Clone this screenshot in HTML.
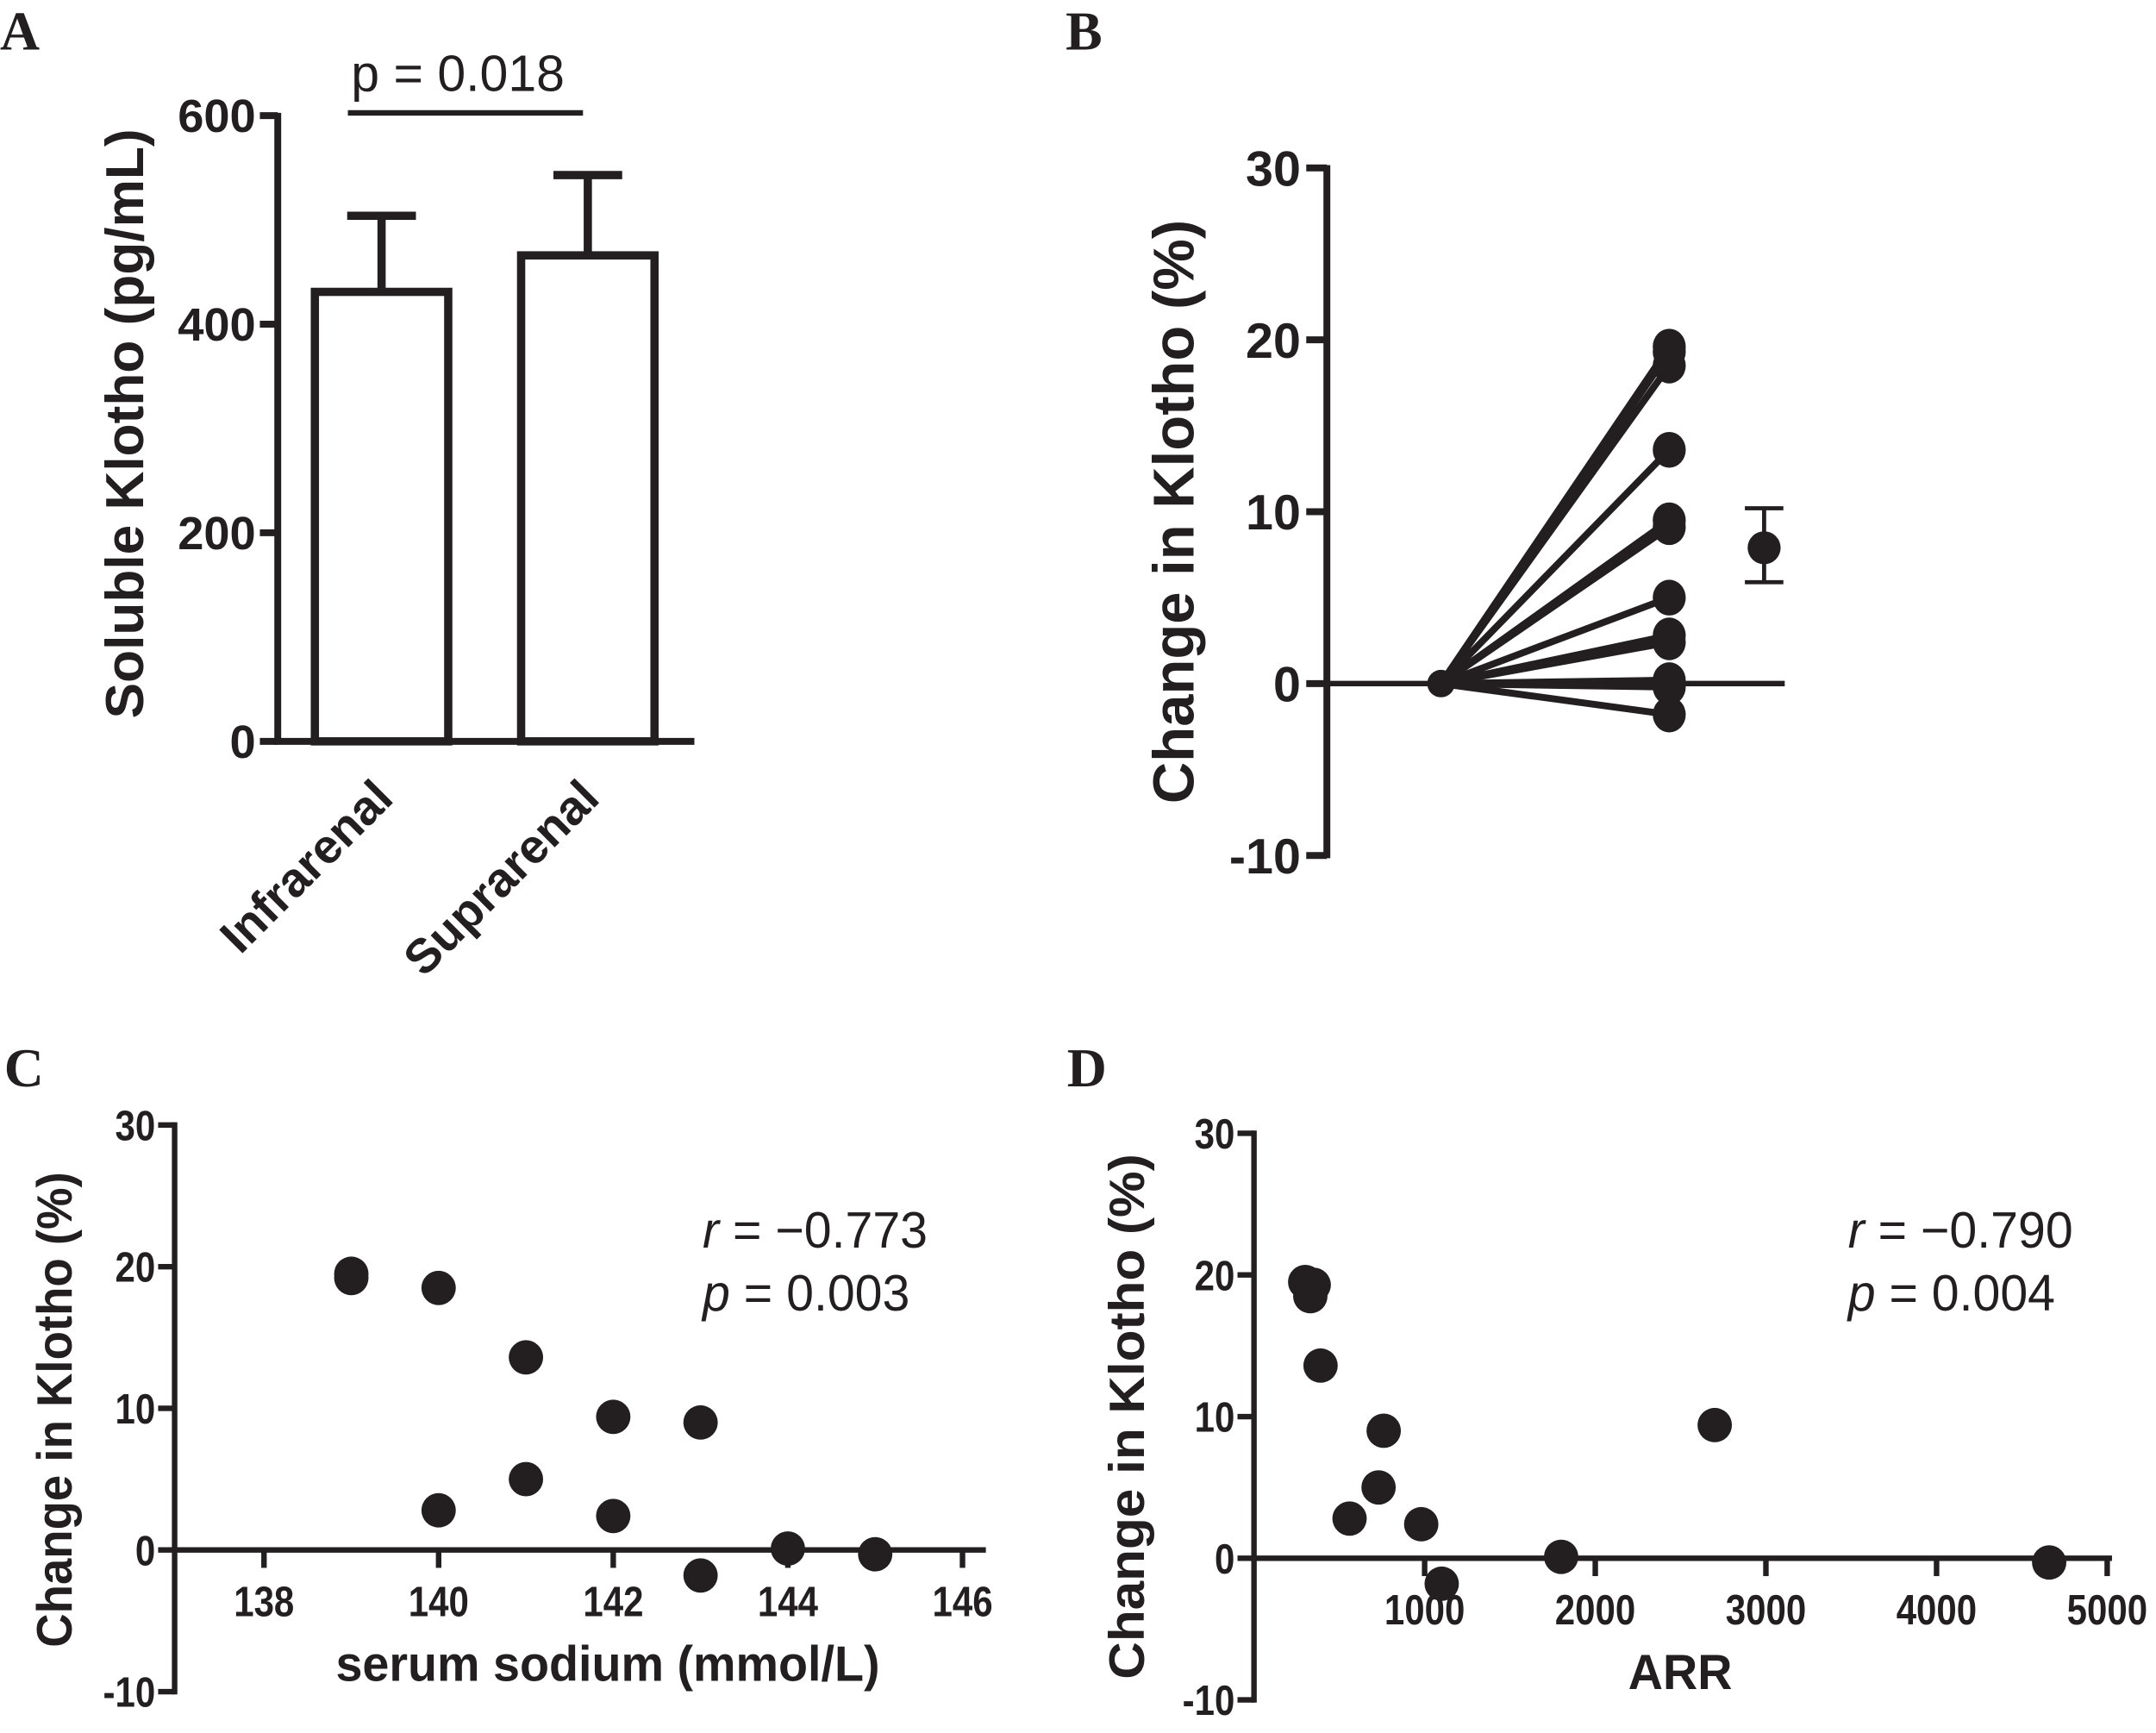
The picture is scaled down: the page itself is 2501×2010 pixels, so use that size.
<!DOCTYPE html>
<html><head><meta charset="utf-8">
<style>
html,body{margin:0;padding:0;background:#fff;}
svg{display:block;}
text{font-family:"Liberation Sans",sans-serif;fill:#231f20;}
</style></head>
<body>
<svg id="fig" width="2501" height="2010" viewBox="0 0 1568 1260" xmlns="http://www.w3.org/2000/svg"></svg>
<script>
// ---- Panel A data ----
const aCategories = ["Infrarenal", "Suprarenal"];
const aMeans = [431, 466];
const aErrors = [73, 77];
const aTicks = [0, 200, 400, 600];
// ---- Panel B data ----
const bChanges = [19.6, 19.3, 18.5, 13.6, 9.5, 9.1, 5.0, 2.8, 2.4, 0.2, -0.2, -1.8];
const bMean = [7.9];
const bErrLow = [5.9];
const bErrHigh = [10.2];
const bTicks = [-10, 0, 10, 20, 30];
// ---- Panel C data ----
const cSodium = [139, 139, 140, 141, 142, 143, 141, 140, 142, 143, 144, 145];
const cChange = [19.5, 19.2, 18.5, 13.6, 9.4, 9.0, 5.0, 2.8, 2.4, -1.8, 0.1, -0.3];
const cXTicks = [138, 140, 142, 144, 146];
const cYTicks = [-10, 0, 10, 20, 30];
// ---- Panel D data ----
const dARR = [300, 350, 330, 390, 760, 2700, 730, 560, 980, 1100, 1800, 4660];
const dChange = [19.5, 19.3, 18.5, 13.6, 9.0, 9.4, 5.0, 2.8, 2.4, -1.8, 0.1, -0.3];
const dXTicks = [1000, 2000, 3000, 4000, 5000];
const dYTicks = [-10, 0, 10, 20, 30];

const NS = "http://www.w3.org/2000/svg";
const svg = document.getElementById('fig');
function mk(tag, attrs, parent) {
  const e = document.createElementNS(NS, tag);
  for (const k in attrs) e.setAttribute(k, attrs[k]);
  (parent || svg).appendChild(e);
  return e;
}
function grp(name) {
  const g = mk('g', {});
  
  
  return g;
}
function line(g, x1, y1, x2, y2, w, name) {
  const l = mk('line', {x1, y1, x2, y2, stroke: '#231f20', 'stroke-width': w}, g);
  
  
  return l;
}
function txt(g, s, x, y, size, weight, anchor, name, extra) {
  const t = mk('text', {x, y, 'font-size': size, 'font-weight': weight, 'text-anchor': anchor}, g);
  if (extra) for (const k in extra) t.setAttribute(k, extra[k]);
  t.textContent = s;
  
  
  return t;
}
function ntxt(g, s, x, y, size, anchor, name, sx) {
  const t = mk('text', {x: 0, y: 0, 'font-size': size, 'font-weight': 'bold', 'text-anchor': anchor,
    transform: `translate(${x},${y}) scale(${sx || 0.8},1)`}, g);
  t.textContent = s;
  
  
  return t;
}
function serif(s, x, y, name) {
  const t = mk('text', {x, y, 'font-size': 40, 'font-weight': 'bold', style: 'font-family:"Liberation Serif",serif'});
  t.textContent = s;
  
  
}
serif('A', 0, 36, 'panel-label-a');
serif('B', 775, 36, 'panel-label-b');
serif('C', 3, 790, 'panel-label-c');
serif('D', 776, 790, 'panel-label-d');

// ===== Panel A =====
(function(){
  const g = grp('panel-a-bar-chart');
  const y = v => 539 - v * (455 / 600);
  const xc = [277.5, 427.5], bw = 97;
  aTicks.forEach(t => {
    line(g, 189, y(t), 202, y(t), 5, 'y-tick');
    txt(g, String(t), 186, y(t) + 12, 34, 'bold', 'end', 'y-tick-label');
  });
  line(g, 202, 82, 202, 541, 5, 'y-axis');
  aCategories.forEach((c, i) => {
    const top = y(aMeans[i]);
    const r = mk('rect', {x: xc[i] - bw/2, y: top, width: bw, height: 539 - top, fill: '#fff', stroke: '#231f20', 'stroke-width': 6}, g);
    
    
    const et = y(aMeans[i] + aErrors[i]);
    line(g, xc[i], top, xc[i], et, 6, 'error-bar');
    line(g, xc[i] - 25, et, xc[i] + 25, et, 6, 'error-cap');
    const lx = xc[i] + 10, ly = 582;
    txt(g, c, lx, ly, 35, 'bold', 'end', 'x-label-' + c.toLowerCase(), {transform: `rotate(-45 ${lx} ${ly})`});
  });
  line(g, 200, 539, 505, 539, 5, 'x-axis');
  line(g, 253, 82, 424, 82, 4, 'significance-bar');
  txt(g, 'p = 0.018', 333, 66, 37, 'normal', 'middle', 'p-value-label');
  txt(g, 'Soluble Klotho (pg/mL)', 0, 0, 39, 'bold', 'middle', 'y-axis-title', {transform: 'translate(104,308) rotate(-90)'});
})();

// ===== Panel B =====
(function(){
  const g = grp('panel-b-paired-chart');
  const y = v => 497 - v * 12.5;
  const x0 = 1048, x1 = 1214, xm = 1283;
  bTicks.forEach(t => {
    line(g, 950, y(t), 965, y(t), 5, 'y-tick');
    txt(g, String(t), 946, y(t) + 13, 36, 'bold', 'end', 'y-tick-label');
  });
  line(g, 965, y(30) - 2, 965, y(-10) + 2, 5, 'y-axis');
  line(g, 963, y(0), 1298, y(0), 4, 'zero-line');
  bChanges.forEach(v => {
    line(g, x0, y(0), x1, y(v), 5, 'paired-line');
  });
  bChanges.forEach(v => {
    const c = mk('ellipse', {cx: x1, cy: y(v), rx: 12, ry: 13, fill: '#231f20'}, g);
    
    
  });
  const b = mk('circle', {cx: x0, cy: y(0), r: 10, fill: '#231f20'}, g);
  
  
  line(g, xm, y(bErrLow[0]), xm, y(bErrHigh[0]), 3, 'mean-error-bar');
  line(g, xm - 14, y(bErrLow[0]), xm + 14, y(bErrLow[0]), 3, 'mean-error-cap');
  line(g, xm - 14, y(bErrHigh[0]), xm + 14, y(bErrHigh[0]), 3, 'mean-error-cap');
  const m = mk('circle', {cx: xm, cy: y(bMean[0]), r: 12, fill: '#231f20'}, g);
  
  
  txt(g, 'Change in Klotho (%)', 0, 0, 42, 'bold', 'middle', 'y-axis-title', {transform: 'translate(868,372) rotate(-90)'});
})();

// ===== Scatter helper =====
function scatter(name, xs, ys, xT, yT, xf, yf, axX, xEnd, yTitleX, yTitleY, tScale, xTitle, xTitleX, rtext, ptext, tx) {
  const g = grp(name);
  yT.forEach(t => {
    line(g, axX - 12, yf(t), axX, yf(t), 4, 'y-tick');
    ntxt(g, String(t), axX - 14, yf(t) + 11, 31, 'end', 'y-tick-label', 0.85);
  });
  line(g, axX, yf(30) - 2, axX, yf(-10) + 2, 4, 'y-axis');
  line(g, axX - 2, yf(0), xEnd, yf(0), 4, 'x-axis');
  xT.forEach(t => {
    line(g, xf(t), yf(0), xf(t), yf(0) + 13, 4, 'x-tick');
    ntxt(g, String(t), xf(t), yf(0) + 48, 31, 'middle', 'x-tick-label', 0.85);
  });
  xs.forEach((v, i) => {
    const c = mk('circle', {cx: xf(v), cy: yf(ys[i]), r: 12.5, fill: '#231f20'}, g);
    
    
  });
  ntxt(g, xTitle, xTitleX, yf(0) + 95, 36, 'middle', 'x-axis-title', 0.97);
  const t = mk('text', {x: 0, y: 0, 'font-size': 36, 'font-weight': 'bold', 'text-anchor': 'middle',
    transform: `translate(${yTitleX},${yTitleY}) rotate(-90) scale(${tScale},1)`}, g);
  t.textContent = 'Change in Klotho (%)';
  
  
  const r = mk('text', {x: 0, y: 0, 'font-size': 37, transform: `translate(${tx},907) scale(0.97,1)`}, g);
  r.innerHTML = '<tspan font-style="italic">r</tspan> = \u2212' + rtext;
  
  
  const p = mk('text', {x: 0, y: 0, 'font-size': 37, transform: `translate(${tx},953) scale(0.97,1)`}, g);
  p.innerHTML = '<tspan font-style="italic">p</tspan> = ' + ptext;
  
  
}
scatter('panel-c-scatter', cSodium, cChange, cXTicks, cYTicks,
  v => 192 + (v - 138) * 63.5, v => 1127 - v * 10.3, 127, 717, 52, 1025, 0.95,
  'serum sodium (mmol/L)', 442, '0.773', '0.003', 511);
scatter('panel-d-scatter', dARR, dChange, dXTicks, dYTicks,
  v => 912 + v * 0.1241, v => 1133 - v * 10.3, 912, 1536, 832, 1030, 1.05,
  'ARR', 1222, '0.790', '0.004', 1344);
</script>
</body></html>
